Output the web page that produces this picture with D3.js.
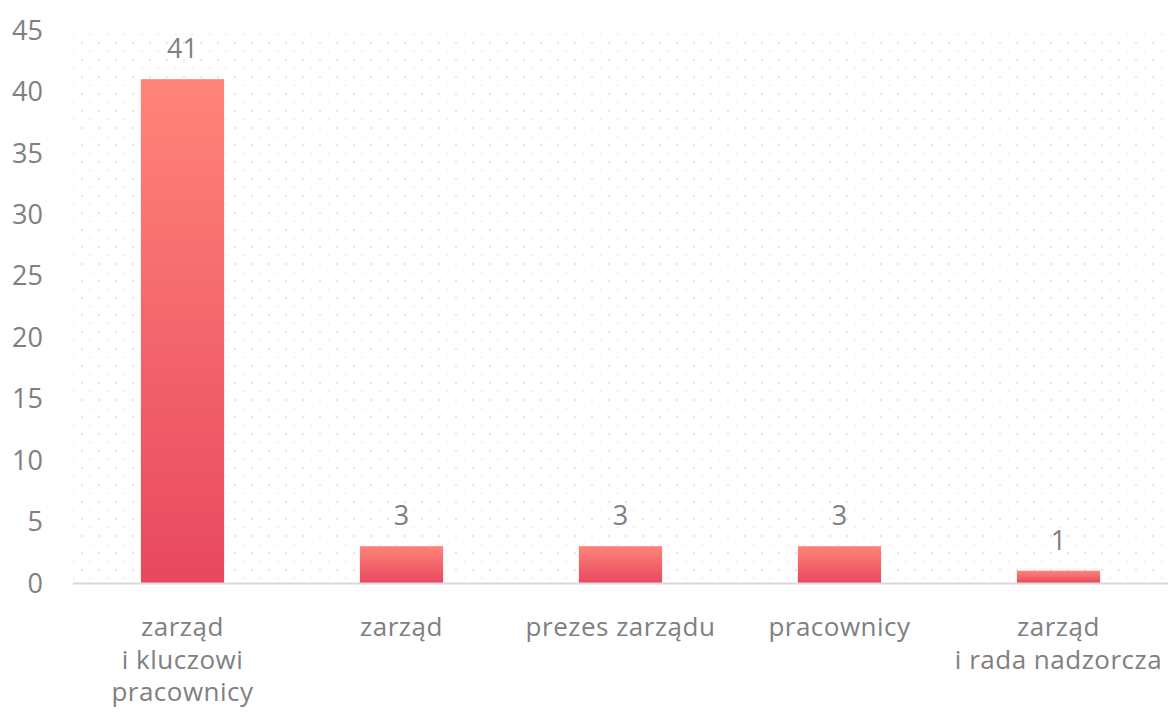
<!DOCTYPE html>
<html lang="pl">
<head>
    <meta charset="utf-8">
    <title>Bar chart</title>
    <script src="https://d3js.org/d3.v7.min.js"></script>
    <style>
        html, body { margin: 0; padding: 0; background: #fff; overflow: hidden; }
        svg { display: block; }
        text { font-family: "Open Sans", sans-serif; fill: #808080; }
    </style>
</head>
<body>
<div id="chart"></div>
<script>
    // Data
    const categories = ["zarząd\ni kluczowi\npracownicy", "zarząd", "prezes zarządu", "pracownicy", "zarząd\ni rada nadzorcza"];
    const values = [41, 3, 3, 3, 1];
    const yTicks = [0, 5, 10, 15, 20, 25, 30, 35, 40, 45];

    // Dimensions
    const width = 1168;
    const height = 717;
    const margin = { top: 30, right: 0, bottom: 134, left: 73 };
    const innerWidth = width - margin.left - margin.right;
    const innerHeight = height - margin.top - margin.bottom;

    const svg = d3.select("#chart")
        .append("svg")
        .attr("width", width)
        .attr("height", height);

    const defs = svg.append("defs");

    // faint dotted background
    const pat = defs.append("pattern")
        .attr("id", "dots")
        .attr("patternUnits", "userSpaceOnUse")
        .attr("x", margin.left + 3)
        .attr("y", margin.top - 1)
        .attr("width", 17)
        .attr("height", 17);
    pat.append("rect").attr("x", 0).attr("y", 0).attr("width", 2).attr("height", 2).attr("fill", "#e6e6e6");
    pat.append("rect").attr("x", 8.5).attr("y", 8.5).attr("width", 2).attr("height", 1.5).attr("fill", "#ededed");

    // bar gradient
    const grad = defs.append("linearGradient")
        .attr("id", "barGrad")
        .attr("x1", 0).attr("y1", 0).attr("x2", 0).attr("y2", 1);
    grad.append("stop").attr("offset", "0%").attr("stop-color", "#ff8479");
    grad.append("stop").attr("offset", "100%").attr("stop-color", "#e8485f");

    const bounds = svg.append("g")
        .attr("transform", `translate(${margin.left},${margin.top})`);

    // Scales
    const x = d3.scaleBand()
        .domain(categories)
        .range([0, innerWidth])
        .paddingInner(0.62)
        .paddingOuter(0.31);

    const y = d3.scaleLinear()
        .domain([0, 45])
        .range([innerHeight, 0]);

    bounds.append("rect")
        .attr("x", 0)
        .attr("y", -2)
        .attr("width", innerWidth)
        .attr("height", innerHeight + 2)
        .attr("fill", "url(#dots)");

    // Y tick labels
    bounds.selectAll(".ytick")
        .data(yTicks)
        .enter().append("text")
        .attr("class", "ytick")
        .attr("x", -30)
        .attr("y", d => y(d))
        .attr("dy", "0.36em")
        .attr("text-anchor", "end")
        .attr("font-size", 27)
        .text(d => d);

    // Bars
    bounds.selectAll(".bar")
        .data(values)
        .enter().append("rect")
        .attr("class", "bar")
        .attr("x", (d, i) => x(categories[i]))
        .attr("y", d => y(d))
        .attr("width", x.bandwidth())
        .attr("height", d => innerHeight - y(d))
        .attr("fill", "url(#barGrad)");

    // Base line
    bounds.append("line")
        .attr("x1", 0)
        .attr("x2", innerWidth)
        .attr("y1", innerHeight + 0.5)
        .attr("y2", innerHeight + 0.5)
        .attr("stroke", "#d9d9d9")
        .attr("stroke-width", 2);

    // Value labels
    bounds.selectAll(".value")
        .data(values)
        .enter().append("text")
        .attr("class", "value")
        .attr("x", (d, i) => x(categories[i]) + x.bandwidth() / 2)
        .attr("y", d => y(d) - 21)
        .attr("text-anchor", "middle")
        .attr("font-size", 27)
        .text(d => d);

    // Category labels
    bounds.selectAll(".cat")
        .data(categories)
        .enter().append("text")
        .attr("class", "cat")
        .attr("text-anchor", "middle")
        .attr("font-size", 26)
        .attr("letter-spacing", 0.5)
        .each(function (d) {
            const t = d3.select(this);
            const cx = x(d) + x.bandwidth() / 2;
            d.split("\n").forEach((line, i) => {
                t.append("tspan")
                    .attr("x", cx)
                    .attr("y", innerHeight + 53 + i * 32.5)
                    .text(line);
            });
        });
</script>
</body>
</html>
